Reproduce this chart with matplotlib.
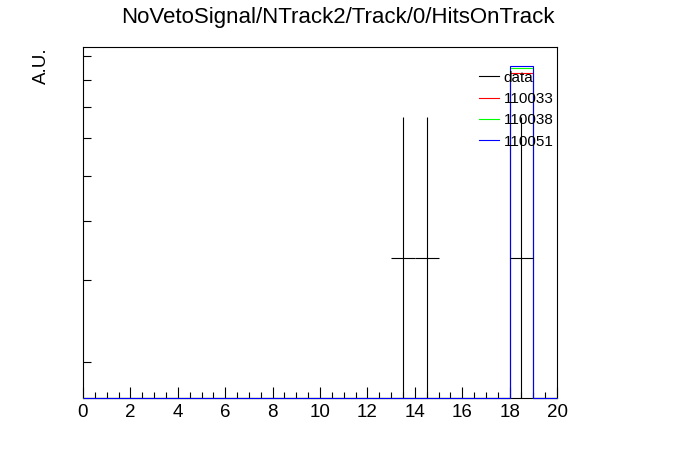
import numpy as np
import matplotlib
matplotlib.use("Agg")
import matplotlib.pyplot as plt

plt.rcParams['font.family'] = ['Liberation Sans', 'DejaVu Sans']

# --- dados (normalizados, unidades arbitrárias) ---
bin_edges = np.arange(0, 21, 1)
data_centers = [13.5, 14.5, 18.5]
data_values = [1/3, 1/3, 1/3]
data_errors = [1/3, 1/3, 1/3]

mc_names = ["110033", "110038", "110051"]
mc_colors = ["#ff0000", "#00ff00", "#0000ff"]
mc_bin = 18
mc_peaks = [0.828, 0.849, 0.855]

y_ticks = [0.2, 0.3, 0.4, 0.5, 0.6, 0.7, 0.8, 0.9]
y_min, y_max = 0.168, 0.939

fig = plt.figure(figsize=(6.96, 4.72), dpi=100)
ax = fig.add_axes([83/696, 1 - 398/472, (557 - 83)/696, (398 - 47)/472])
ax.set_yscale('log', nonpositive='clip')

# dados: barras de erro sem marcador
ax.errorbar(data_centers, data_values, yerr=data_errors, xerr=0.5,
            fmt='none', ecolor='black', elinewidth=0.8, capsize=0, zorder=4)
ax.plot([], [], color='black', lw=0.8, label='data')

# histogramas de MC (bins vazios ficam na base do quadro)
for nome, cor, pico in zip(mc_names, mc_colors, mc_peaks):
    vals = np.zeros(len(bin_edges) - 1)
    vals[mc_bin] = pico
    vals = np.clip(vals, y_min, None)
    ax.stairs(vals, bin_edges, color=cor, lw=0.8, baseline=None, zorder=3,
              label=nome, clip_on=False)

ax.set_xlim(0, 20)
ax.set_ylim(y_min, y_max)

ax.set_xticks(np.arange(0, 21, 2))
ax.set_xticks(np.arange(0, 20.01, 0.5), minor=True)
ax.set_yticks(y_ticks)
ax.set_yticks([], minor=True)
ax.set_yticklabels([])
ax.tick_params(axis='x', which='major', direction='in', length=8, width=0.8,
               labelsize=13.5, pad=4)
ax.tick_params(axis='x', which='minor', direction='in', length=4.2, width=0.8)
ax.tick_params(axis='y', which='major', direction='in', length=6, width=0.8)
for s in ax.spines.values():
    s.set_linewidth(0.8)

ax.set_ylabel("A.U.", loc='top', fontsize=13.5)
ax.yaxis.set_label_coords(-0.07, 1.0)

fig.text(338/696, 1 - 18/472, "NoVetoSignal/NTrack2/Track/0/HitsOnTrack",
         ha='center', va='center', fontsize=16)

ax.legend(loc='upper left', bbox_to_anchor=(471/696, 1 - 63/472),
          bbox_transform=fig.transFigure, frameon=False, fontsize=11,
          handlelength=1.35, handletextpad=0.3, labelspacing=0.48,
          borderpad=0.0)

fig.savefig("out.png", dpi=100)
